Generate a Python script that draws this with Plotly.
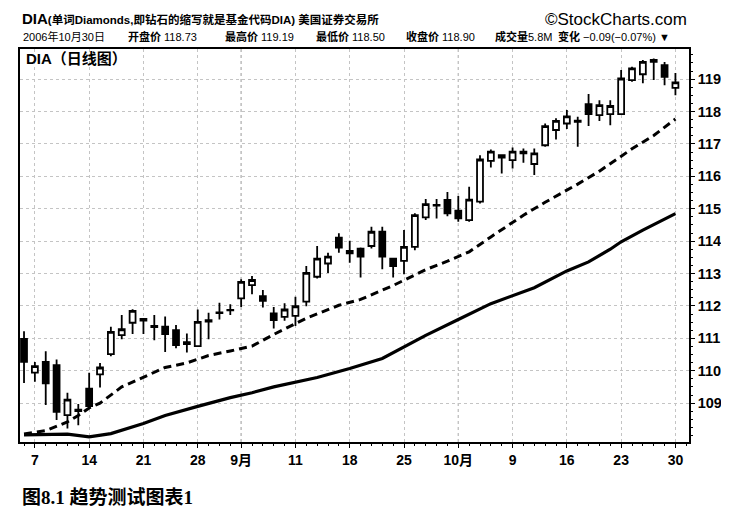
import pandas as pd
import plotly.graph_objects as go

# trading days Aug 4 - Oct 30 2006 (Labor Day closed)
dates = pd.bdate_range("2006-08-04", "2006-10-30", freq="C",
                       holidays=["2006-09-04"]).strftime("%Y-%m-%d").tolist()

opens = [110.98, 109.94, 110.27, 110.17, 108.63, 108.75, 109.45, 109.89, 110.51, 111.10,
         111.48, 111.60, 111.38, 111.36, 111.25, 110.82, 110.76, 111.52, 111.80, 111.86,
         112.23, 112.64, 112.30, 111.77, 111.66, 111.69, 112.13, 112.90, 113.31, 114.11,
         113.62, 113.77, 113.85, 114.29, 113.46, 113.39, 113.82, 114.73, 115.10, 115.27,
         114.94, 114.65, 115.22, 116.48, 116.58, 116.50, 116.76, 116.38, 116.96, 117.43,
         117.63, 117.72, 118.23, 117.89, 117.92, 117.92, 118.97, 119.15, 119.59, 119.43,
         118.73]
highs = [111.22, 110.27, 110.60, 110.35, 109.32, 108.97, 109.94, 110.24, 111.36, 111.72,
         111.90, 111.63, 111.72, 111.67, 111.41, 111.15, 111.89, 111.79, 112.10, 112.05,
         112.82, 112.92, 112.49, 111.97, 112.08, 112.28, 113.23, 113.85, 113.64, 114.24,
         114.01, 113.80, 114.44, 114.44, 113.48, 114.34, 114.86, 115.30, 115.30, 115.52,
         115.39, 115.68, 116.65, 116.83, 116.66, 116.89, 116.86, 116.86, 117.63, 117.79,
         118.05, 117.84, 118.54, 118.35, 118.35, 119.28, 119.38, 119.59, 119.64, 119.53,
         119.19]
lows = [109.62, 109.66, 108.94, 108.48, 108.22, 108.32, 108.85, 109.48, 110.45, 110.97,
        111.13, 111.13, 110.94, 110.58, 110.69, 110.56, 110.76, 110.97, 111.58, 111.72,
        111.97, 112.36, 111.95, 111.30, 111.54, 111.38, 111.99, 112.85, 113.02, 113.64,
        113.33, 112.88, 113.77, 113.13, 112.88, 112.98, 113.72, 114.65, 114.70, 114.77,
        114.60, 114.60, 115.16, 116.27, 116.09, 116.24, 116.42, 116.04, 116.91, 117.14,
        117.46, 116.91, 117.55, 117.71, 117.58, 117.92, 118.92, 118.87, 118.97, 118.81,
        118.50]
closes = [110.27, 110.14, 109.61, 108.73, 109.11, 108.80, 108.91, 110.10, 111.20, 111.28,
          111.85, 111.55, 111.35, 111.13, 110.79, 110.88, 111.51, 111.56, 111.78, 111.88,
          112.74, 112.80, 112.16, 111.56, 111.89, 111.99, 113.02, 113.46, 113.52, 113.80,
          113.70, 113.52, 114.29, 113.52, 113.23, 113.82, 114.80, 115.14, 115.12, 114.86,
          114.70, 115.28, 116.52, 116.76, 116.65, 116.76, 116.71, 116.71, 117.55, 117.71,
          117.85, 117.68, 117.92, 118.20, 118.17, 119.02, 119.33, 119.53, 119.53, 119.07,
          118.90]

ma20_days = [0, 2, 4, 5, 6, 7, 9, 11, 13, 15, 17, 19, 21, 23, 26, 29, 31, 34, 37, 39,
             41, 43, 46, 48, 51, 53, 56, 58, 60]
ma20_vals = [108.05, 108.15, 108.42, 108.62, 108.85, 109.00, 109.50, 109.81, 110.10, 110.24,
             110.47, 110.61, 110.76, 111.12, 111.62, 112.02, 112.20, 112.63, 113.12, 113.38,
             113.67, 114.13, 114.80, 115.20, 115.76, 116.16, 116.85, 117.26, 117.77]
ma50_days = [0, 4, 6, 8, 11, 13, 16, 19, 21, 23, 27, 30, 33, 37, 40, 43, 47, 50, 52, 54,
             55, 57, 60]
ma50_vals = [108.02, 108.04, 107.96, 108.06, 108.37, 108.62, 108.90, 109.17, 109.32, 109.50,
             109.79, 110.07, 110.38, 111.09, 111.58, 112.07, 112.56, 113.08, 113.36, 113.75,
             113.98, 114.34, 114.85]

tick_dates = ["2006-08-07", "2006-08-14", "2006-08-21", "2006-08-28", "2006-09-01",
              "2006-09-11", "2006-09-18", "2006-09-25", "2006-10-02", "2006-10-09",
              "2006-10-16", "2006-10-23", "2006-10-30"]
tick_text = ["7", "14", "21", "28", "9月", "11", "18", "25", "10月", "9", "16", "23", "30"]
month_starts = ["2006-09-01", "2006-10-02"]

FONT = "Liberation Sans, Arial, Noto Sans CJK SC"
xs = list(range(len(dates)))
tickvals = [dates.index(d) for d in tick_dates]

fig = go.Figure()
fig.add_trace(go.Scatter(
    x=ma50_days, y=ma50_vals, mode="lines",
    line=dict(color="black", width=3.2), hoverinfo="skip"
))
fig.add_trace(go.Scatter(
    x=ma20_days, y=ma20_vals, mode="lines",
    line=dict(color="black", width=3, dash="8px,5px"), hoverinfo="skip"
))
fig.add_trace(go.Candlestick(
    x=xs, open=opens, high=highs, low=lows, close=closes,
    text=dates, whiskerwidth=0,
    increasing=dict(line=dict(color="black", width=1.8), fillcolor="white"),
    decreasing=dict(line=dict(color="black", width=1.8), fillcolor="black"),
))

for d in month_starts:
    fig.add_shape(type="line", xref="x", yref="paper", x0=dates.index(d), x1=dates.index(d),
                  y0=0, y1=1, line=dict(color="#888888", width=1, dash="dot"), layer="below")

# header
fig.add_annotation(x=0, y=1.104, xref="paper", yref="paper", xanchor="left", yanchor="top",
                   showarrow=False, font=dict(family=FONT, size=11.5, color="black"),
                   text="<b><span style='font-size:15px'>DIA</span>(单词Diamonds,即钻石的缩写就是基金代码DIA) 美国证券交易所</b>")
fig.add_annotation(x=1.0, y=1.104, xref="paper", yref="paper", xanchor="right", yanchor="top",
                   showarrow=False, font=dict(family=FONT, size=17, color="black"),
                   text="©StockCharts.com")
header2 = [(21, "2006年10月30日"), (126, "<b>开盘价</b> 118.73"), (223, "<b>最高价</b> 119.19"),
           (314, "<b>最低价</b> 118.50"), (404, "<b>收盘价</b> 118.90"), (493, "<b>成交量</b>5.8M"),
           (556, "<b>变化</b> −0.09(−0.07%) ▼")]
for px_, txt in header2:
    fig.add_annotation(x=(px_ - 20) / 669, y=1.032, xref="paper", yref="paper",
                       xanchor="left", yanchor="middle", showarrow=False,
                       font=dict(family=FONT, size=11, color="black"), text=txt)
fig.add_annotation(x=0.006, y=0.977, xref="paper", yref="paper", xanchor="left", yanchor="middle",
                   showarrow=False, font=dict(family=FONT, size=15, color="black", weight="bold"),
                   text="DIA（日线图）")
fig.add_annotation(x=0, y=-0.14, xref="paper", yref="paper", xanchor="left", yanchor="middle",
                   showarrow=False,
                   font=dict(family="Liberation Serif, Noto Sans CJK SC", size=19, color="black",
                             weight="bold"),
                   text="图8.1 趋势测试图表1")

# the page body adds an 8px margin all round, so the figure is drawn 16px smaller
fig.update_layout(
    width=713, height=501,
    margin=dict(l=12, r=32, t=41, b=67),
    paper_bgcolor="white", plot_bgcolor="white",
    showlegend=False, boxgap=0.22,
    xaxis=dict(
        range=[-0.37, 61.25], rangeslider=dict(visible=False), automargin=False,
        tickmode="array", tickvals=tickvals, ticktext=tick_text,
        ticks="outside", ticklen=4, tickcolor="black",
        minor=dict(ticks="outside", ticklen=2, dtick=1, tick0=0, tickcolor="black",
                   showgrid=False),
        showgrid=True, gridcolor="#c4c4c4", griddash="dot", gridwidth=1,
        showline=True, linecolor="black", linewidth=1.5, mirror=True,
        tickfont=dict(family=FONT, size=14, color="black", weight="bold"),
        zeroline=False,
    ),
    yaxis=dict(
        side="right", range=[107.8, 119.93], automargin=False,
        tickmode="array", tickvals=list(range(109, 120)),
        ticks="outside", ticklen=4, tickcolor="black",
        minor=dict(ticks="outside", ticklen=2, dtick=0.25, tickcolor="black",
                   showgrid=False),
        showgrid=True, gridcolor="#c4c4c4", griddash="dot", gridwidth=1,
        showline=True, linecolor="black", linewidth=1.5, mirror=True,
        tickfont=dict(family=FONT, size=14.5, color="black", weight="bold"),
        zeroline=False,
    ),
)

fig.write_html("out.html")
